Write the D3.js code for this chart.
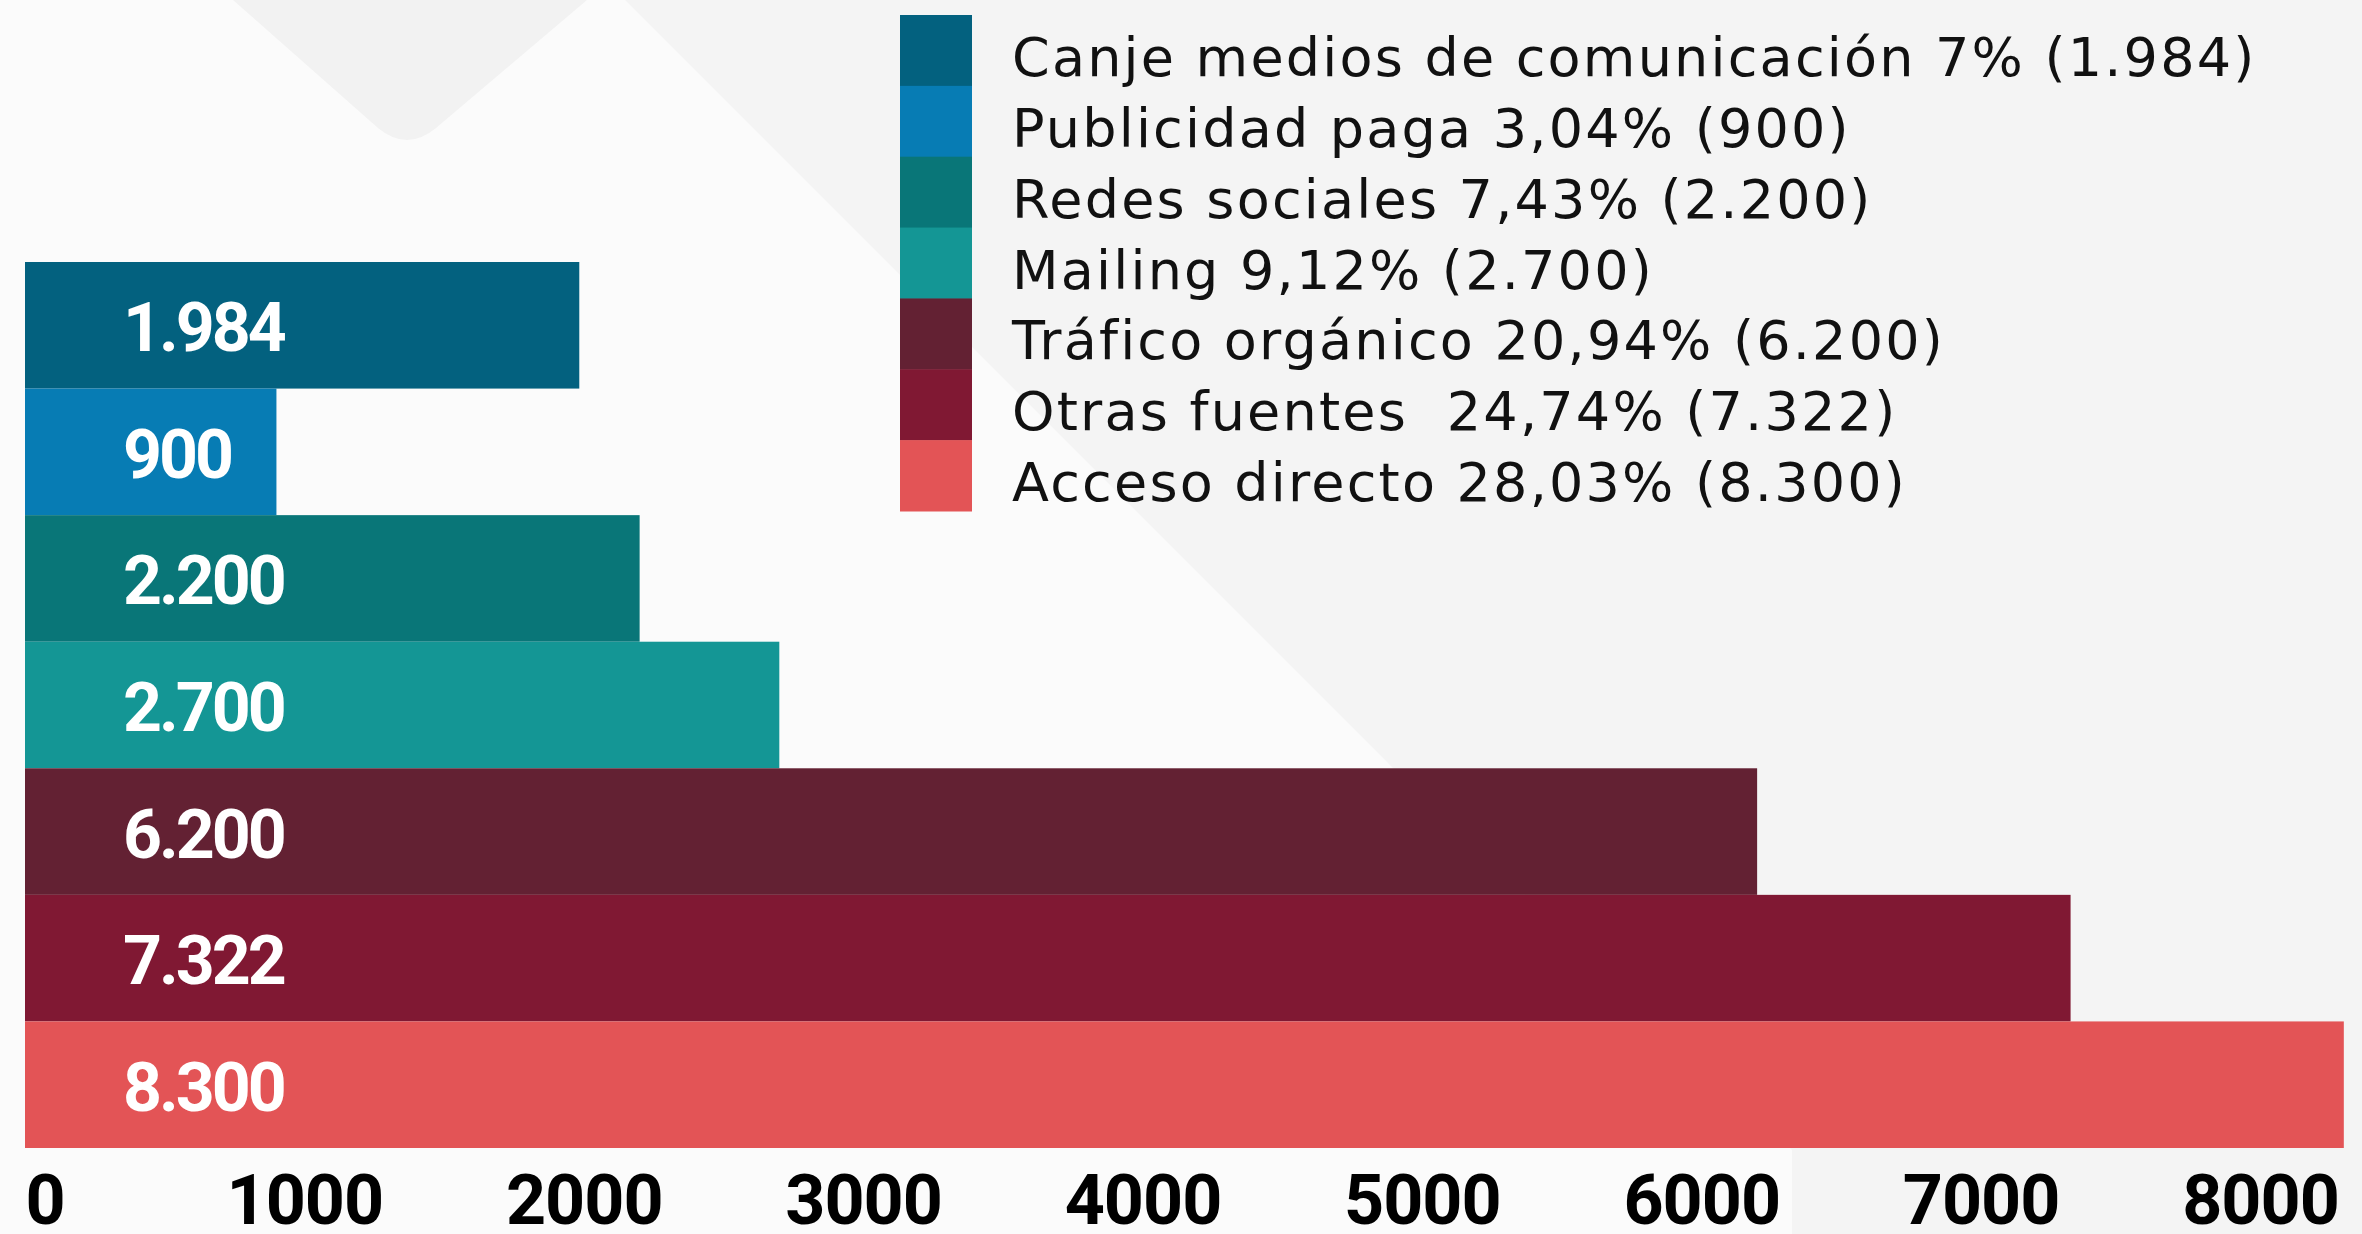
<!DOCTYPE html>
<html>
<head>
<meta charset="utf-8">
<script src="https://cdn.jsdelivr.net/npm/d3@7"></script>
<style>
  html, body { margin: 0; padding: 0; background: #f5f5f5; }
  svg { display: block; }
</style>
</head>
<body>
<svg id="chart" width="2362" height="1234"></svg>
<script>
// === Data ===
const categories = ["Canje medios de comunicación", "Publicidad paga", "Redes sociales", "Mailing", "Tráfico orgánico", "Otras fuentes ", "Acceso directo"];
const values = [1984, 900, 2200, 2700, 6200, 7322, 8300];
const percents = ["7%", "3,04%", "7,43%", "9,12%", "20,94%", "24,74%", "28,03%"];
const colors = ["#03617f", "#077cb4", "#097678", "#149695", "#632133", "#801833", "#e35456"];
const tickValues = [0, 1000, 2000, 3000, 4000, 5000, 6000, 7000, 8000];

const data = categories.map((c, i) => ({ category: c, value: values[i], percent: percents[i], color: colors[i] }));

// punkt som tusentalsavgränsare (1.984)
const esLocale = d3.formatLocale({ decimal: ",", thousands: ".", grouping: [3], currency: ["$", ""] });
const fmt = esLocale.format(",");

const svg = d3.select("#chart");
const width = +svg.attr("width");
const height = +svg.attr("height");

// === Bakgrund ===
svg.append("rect").attr("width", width).attr("height", height).attr("fill", "#f4f4f4");
svg.append("path")
  .attr("d", "M0,0 L625,0 L1400,775 L1792,1150 L1792,1234 L0,1234 Z")
  .attr("fill", "#fbfbfb");
svg.append("path")
  .attr("d", "M233,0 L587,0 L436,128 Q407,152 378,128 Z")
  .attr("fill", "#f2f2f2");

// === Skalor ===
const x = d3.scaleLinear()
  .domain([0, 8000])
  .range([25, 2260]);

const y = d3.scaleBand()
  .domain(categories)
  .range([262, 1148])
  .padding(0);

// === Staplar ===
svg.selectAll(".bar")
  .data(data)
  .enter()
  .append("rect")
  .attr("class", "bar")
  .attr("x", x(0))
  .attr("y", d => y(d.category))
  .attr("width", d => x(d.value) - x(0))
  .attr("height", y.bandwidth())
  .attr("fill", d => d.color);

svg.selectAll(".bar-label")
  .data(data)
  .enter()
  .append("text")
  .attr("class", "bar-label")
  .attr("x", 123)
  .attr("y", d => y(d.category) + y.bandwidth() / 2 + 26)
  .attr("fill", "#ffffff")
  .style("font-family", "Roboto, sans-serif")
  .style("font-weight", "700")
  .style("font-size", "68px")
  .style("letter-spacing", "-3px")
  .text(d => fmt(d.value));

// === X-axel ===
const xAxis = svg.append("g")
  .attr("transform", `translate(0, ${1174})`)
  .call(d3.axisBottom(x).tickValues(tickValues).tickSize(0).tickPadding(0).tickFormat(d3.format("d")));

xAxis.select(".domain").remove();
xAxis.selectAll("text")
  .attr("fill", "#000000")
  .style("font-family", "Roboto, sans-serif")
  .style("font-weight", "700")
  .style("font-size", "70px")
  .style("letter-spacing", "-1px");
xAxis.selectAll(".tick").filter(d => d === 0).select("text").attr("text-anchor", "start");

// === Legend ===
const legendY = d3.scaleBand()
  .domain(categories)
  .range([15, 511])
  .padding(0);

svg.selectAll(".legend-swatch")
  .data(data)
  .enter()
  .append("rect")
  .attr("class", "legend-swatch")
  .attr("x", 900)
  .attr("y", d => legendY(d.category))
  .attr("width", 72)
  .attr("height", legendY.bandwidth() + 0.5)
  .attr("fill", d => d.color);

svg.selectAll(".legend-label")
  .data(data)
  .enter()
  .append("text")
  .attr("class", "legend-label")
  .attr("x", 1012)
  .attr("y", d => legendY(d.category) + 61)
  .attr("fill", "#111111")
  .style("white-space", "pre")
  .style("font-family", "'DejaVu Sans', sans-serif")
  .style("font-size", "54px")
  .style("letter-spacing", "2.2px")
  .text(d => `${d.category} ${d.percent} (${fmt(d.value)})`);
</script>
</body>
</html>
